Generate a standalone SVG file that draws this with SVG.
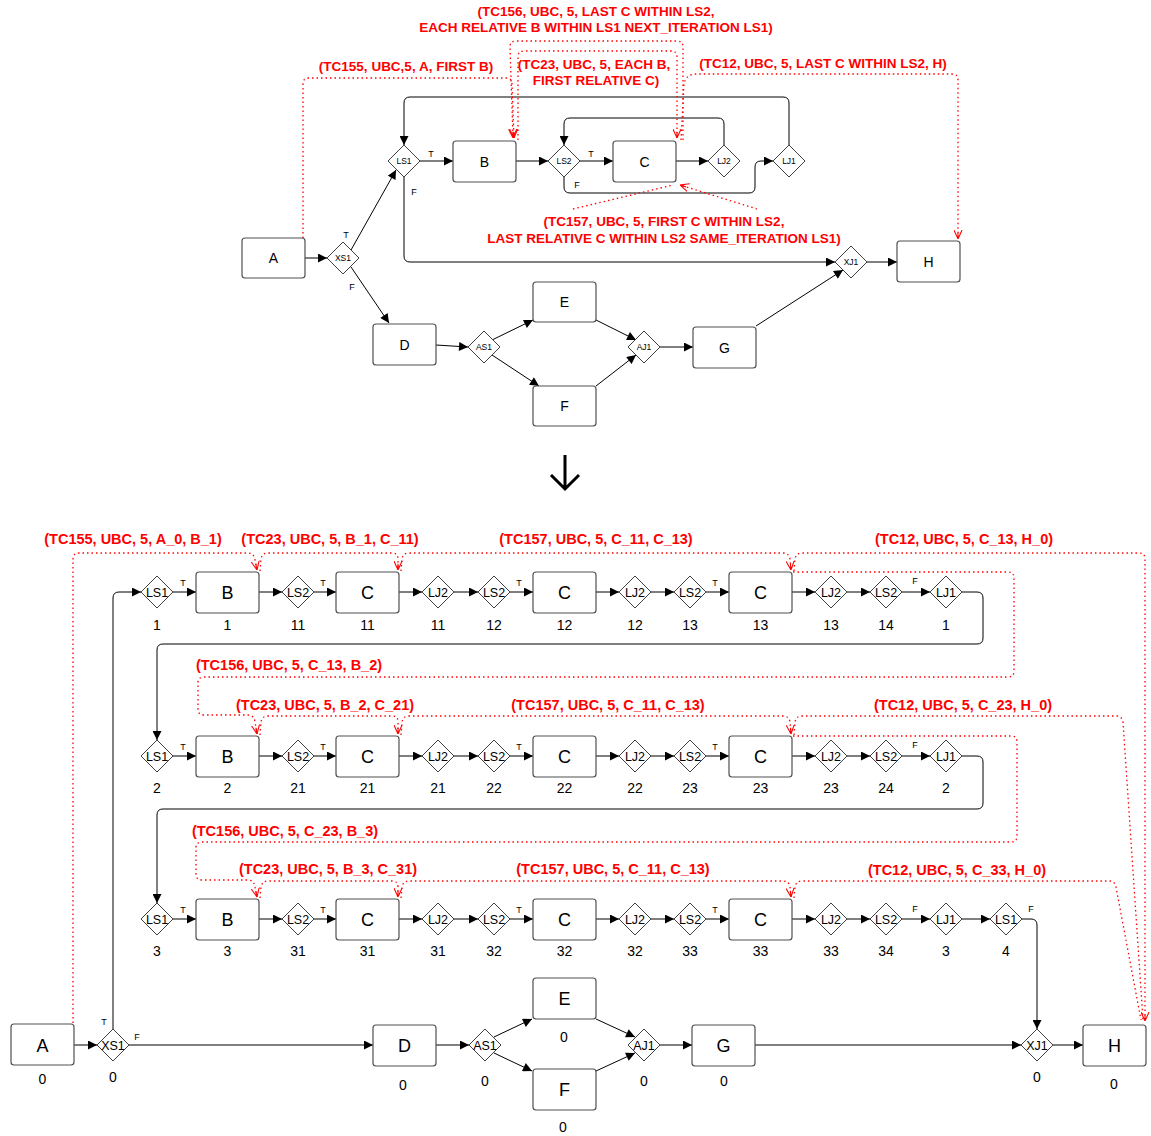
<svg xmlns="http://www.w3.org/2000/svg" width="1151" height="1136" viewBox="0 0 1151 1136">
<style>
.box{fill:#fff;stroke:#505050;stroke-width:1.2}
.dia{fill:#fff;stroke:#404040;stroke-width:1}
.t{font-family:"Liberation Sans",Arial,sans-serif;text-anchor:middle;fill:#000}
.big{font-size:18px}
.mid{font-size:14px}
.num{font-size:14px}
.dl{font-size:12.5px}
.tdl{font-size:8.5px}
.tf{font-size:9px}
.ann{font-family:"Liberation Sans",Arial,sans-serif;font-weight:bold;font-size:14.5px;fill:#ff0000;text-anchor:middle}
.annt{font-family:"Liberation Sans",Arial,sans-serif;font-weight:bold;font-size:13.5px;fill:#ff0000;text-anchor:middle}
.c{fill:none;stroke:#000;stroke-width:1;marker-end:url(#ah)}
.cn{fill:none;stroke:#000;stroke-width:1}
.r{fill:none;stroke:#ff0000;stroke-width:1.3;stroke-dasharray:1.5 3}
.ra{marker-end:url(#ra)}
</style>
<defs>
<marker id="ah" viewBox="0 0 10 10" refX="10" refY="5" markerWidth="10" markerHeight="9" markerUnits="userSpaceOnUse" orient="auto"><path d="M0,0 L10,5 L0,10 z" fill="#000"/></marker>
<marker id="ra" viewBox="0 0 10 10" refX="10" refY="5" markerWidth="9" markerHeight="9" markerUnits="userSpaceOnUse" orient="auto"><path d="M0,0.5 L10,5 L0,9.5 M10,5 L3,5" fill="none" stroke="#ff0000" stroke-width="1.2"/></marker>
</defs>
<rect width="1151" height="1136" fill="#fff"/>

<!-- ================= TOP DIAGRAM ================= -->
<g id="top-connectors">
<path class="c" d="M305,258 L327,258"/>
<path class="c" d="M351,250 L396,170"/>
<path class="c" d="M351,267 L389,323"/>
<path class="c" d="M420,161 L453,161"/>
<path class="c" d="M516,161 L548,161"/>
<path class="c" d="M580,161 L613,161"/>
<path class="c" d="M676,161 L708,161"/>
<path class="c" d="M724,145 L724,124 Q724,118 718,118 L570,118 Q564,118 564,124 L564,145"/>
<path class="c" d="M564,177 L564,187 Q564,193 570,193 L749,193 Q755,193 755,187 L755,167 Q755,161 761,161 L773,161"/>
<path class="c" d="M789,145 L789,103 Q789,97 783,97 L410,97 Q404,97 404,103 L404,145"/>
<path class="c" d="M404,177 L404,256 Q404,262 410,262 L835,262"/>
<path class="c" d="M867,262 L897,262"/>
<path class="c" d="M436,345 L468,347"/>
<path class="c" d="M492,340 L533,320"/>
<path class="c" d="M492,355 L539,386"/>
<path class="c" d="M596,320 L636,340"/>
<path class="c" d="M596,386 L636,355"/>
<path class="c" d="M660,347 L693,347"/>
<path class="c" d="M756,326 L843,270"/>
<text class="t tf" x="346" y="238">T</text>
<text class="t tf" x="352" y="290">F</text>
<text class="t tf" x="431" y="157">T</text>
<text class="t tf" x="414" y="195">F</text>
<text class="t tf" x="591" y="157">T</text>
<text class="t tf" x="577" y="188">F</text>
</g>

<g id="top-annotations">
<path class="r ra" d="M303,238 L303,84 Q303,78 309,78 L506,78 Q512,78 512,84 L514,138"/>
<path class="r ra" d="M683,140 L683,47 Q683,41 677,41 L516,41 Q510,41 510,47 L513,138"/>
<path class="r ra" d="M518,140 L518,57 Q518,51 524,51 L671,51 Q677,51 677,57 L677,138"/>
<path class="r ra" d="M681,140 L684,84 Q686,74 696,74 L952,74 Q958,74 958,80 L958,239"/>
<path class="r" d="M573,209 L673,185"/>
<path class="r ra" d="M757,209 L680,185"/>
<text class="annt" x="596" y="16">(TC156, UBC, 5, LAST C WITHIN LS2,</text>
<text class="annt" x="596" y="32">EACH RELATIVE B WITHIN LS1 NEXT_ITERATION LS1)</text>
<text class="annt" x="406" y="71">(TC155, UBC,5, A, FIRST B)</text>
<text class="annt" x="594" y="69">(TC23, UBC, 5, EACH B,</text>
<text class="annt" x="596" y="85">FIRST RELATIVE C)</text>
<text class="annt" x="823" y="68">(TC12, UBC, 5, LAST C WITHIN LS2, H)</text>
<text class="annt" x="664" y="226">(TC157, UBC, 5, FIRST C WITHIN LS2,</text>
<text class="annt" x="664" y="243">LAST RELATIVE C WITHIN LS2 SAME_ITERATION LS1)</text>
</g>

<g id="tA"><rect class="box" x="242" y="238" width="63" height="40" rx="3"/><text class="t mid" x="273.5" y="263">A</text></g>
<g id="tXS1"><polygon class="dia" points="343,242 359,258 343,274 327,258"/><text class="t tdl" x="343" y="261">XS1</text></g>
<g id="tLS1"><polygon class="dia" points="404,145 420,161 404,177 388,161"/><text class="t tdl" x="404" y="164">LS1</text></g>
<g id="tB"><rect class="box" x="453" y="141" width="63" height="41" rx="3"/><text class="t mid" x="484.5" y="167">B</text></g>
<g id="tLS2"><polygon class="dia" points="564,145 580,161 564,177 548,161"/><text class="t tdl" x="564" y="164">LS2</text></g>
<g id="tC"><rect class="box" x="613" y="141" width="63" height="41" rx="3"/><text class="t mid" x="644.5" y="167">C</text></g>
<g id="tLJ2"><polygon class="dia" points="724,145 740,161 724,177 708,161"/><text class="t tdl" x="724" y="164">LJ2</text></g>
<g id="tLJ1"><polygon class="dia" points="789,145 805,161 789,177 773,161"/><text class="t tdl" x="789" y="164">LJ1</text></g>
<g id="tXJ1"><polygon class="dia" points="851,246 867,262 851,278 835,262"/><text class="t tdl" x="851" y="265">XJ1</text></g>
<g id="tH"><rect class="box" x="897" y="241" width="63" height="41" rx="3"/><text class="t mid" x="928.5" y="267">H</text></g>
<g id="tD"><rect class="box" x="373" y="324" width="63" height="41" rx="3"/><text class="t mid" x="404.5" y="350">D</text></g>
<g id="tAS1"><polygon class="dia" points="484,331 500,347 484,363 468,347"/><text class="t tdl" x="484" y="350">AS1</text></g>
<g id="tE"><rect class="box" x="533" y="282" width="63" height="40" rx="3"/><text class="t mid" x="564.5" y="307">E</text></g>
<g id="tF"><rect class="box" x="533" y="386" width="63" height="40" rx="3"/><text class="t mid" x="564.5" y="411">F</text></g>
<g id="tAJ1"><polygon class="dia" points="644,331 660,347 644,363 628,347"/><text class="t tdl" x="644" y="350">AJ1</text></g>
<g id="tG"><rect class="box" x="693" y="327" width="63" height="41" rx="3"/><text class="t mid" x="724.5" y="353">G</text></g>

<g id="transform-arrow"><path d="M565,455 L565,489 M551,475 L565,489 L579,475" fill="none" stroke="#000" stroke-width="3"/></g>

<!-- ================= BOTTOM DIAGRAM ================= -->
<g id="connectors">
<!-- row 1 -->
<path class="c" d="M113,1029 L113,598 Q113,592 119,592 L141,592"/>
<path class="c" d="M173,592 L196,592"/>
<path class="c" d="M259,592 L282,592"/>
<path class="c" d="M314,592 L336,592"/>
<path class="c" d="M399,592 L422,592"/>
<path class="c" d="M454,592 L478,592"/>
<path class="c" d="M510,592 L533,592"/>
<path class="c" d="M596,592 L619,592"/>
<path class="c" d="M651,592 L674,592"/>
<path class="c" d="M706,592 L729,592"/>
<path class="c" d="M792,592 L815,592"/>
<path class="c" d="M847,592 L870,592"/>
<path class="c" d="M902,592 L930,592"/>
<path class="c" d="M962,592 L977,592 Q983,592 983,598 L983,638 Q983,644 977,644 L163,644 Q157,644 157,650 L157,740"/>
<!-- row 2 -->
<path class="c" d="M173,756 L196,756"/>
<path class="c" d="M259,756 L282,756"/>
<path class="c" d="M314,756 L336,756"/>
<path class="c" d="M399,756 L422,756"/>
<path class="c" d="M454,756 L478,756"/>
<path class="c" d="M510,756 L533,756"/>
<path class="c" d="M596,756 L619,756"/>
<path class="c" d="M651,756 L674,756"/>
<path class="c" d="M706,756 L729,756"/>
<path class="c" d="M792,756 L815,756"/>
<path class="c" d="M847,756 L870,756"/>
<path class="c" d="M902,756 L930,756"/>
<path class="c" d="M962,756 L977,756 Q983,756 983,762 L983,803 Q983,809 977,809 L163,809 Q157,809 157,815 L157,903"/>
<!-- row 3 -->
<path class="c" d="M173,919 L196,919"/>
<path class="c" d="M259,919 L282,919"/>
<path class="c" d="M314,919 L336,919"/>
<path class="c" d="M399,919 L422,919"/>
<path class="c" d="M454,919 L478,919"/>
<path class="c" d="M510,919 L533,919"/>
<path class="c" d="M596,919 L619,919"/>
<path class="c" d="M651,919 L674,919"/>
<path class="c" d="M706,919 L729,919"/>
<path class="c" d="M792,919 L815,919"/>
<path class="c" d="M847,919 L870,919"/>
<path class="c" d="M902,919 L930,919"/>
<path class="c" d="M962,919 L990,919"/>
<path class="c" d="M1022,919 L1031,919 Q1037,919 1037,925 L1037,1029"/>
<!-- bottom row -->
<path class="c" d="M74,1045 L97,1045"/>
<path class="c" d="M129,1045 L373,1045"/>
<path class="c" d="M436,1045 L469,1045"/>
<path class="c" d="M494,1037 L532,1019"/>
<path class="c" d="M494,1053 L532,1071"/>
<path class="c" d="M596,1019 L635,1037"/>
<path class="c" d="M596,1071 L635,1053"/>
<path class="c" d="M660,1045 L692,1045"/>
<path class="c" d="M755,1045 L1021,1045"/>
<path class="c" d="M1053,1045 L1083,1045"/>
<!-- T/F labels -->
<text class="t tf" x="183" y="586">T</text><text class="t tf" x="323" y="586">T</text><text class="t tf" x="519" y="586">T</text><text class="t tf" x="715" y="586">T</text><text class="t tf" x="915" y="584">F</text>
<text class="t tf" x="183" y="750">T</text><text class="t tf" x="323" y="750">T</text><text class="t tf" x="519" y="750">T</text><text class="t tf" x="715" y="750">T</text><text class="t tf" x="915" y="748">F</text>
<text class="t tf" x="183" y="913">T</text><text class="t tf" x="323" y="913">T</text><text class="t tf" x="519" y="913">T</text><text class="t tf" x="715" y="913">T</text><text class="t tf" x="915" y="912">F</text><text class="t tf" x="1031" y="912">F</text>
<text class="t tf" x="104" y="1025">T</text><text class="t tf" x="137" y="1040">F</text>
</g>

<g id="annotations">
<path class="r ra" d="M73,1023 L73,559 Q73,553 79,553 L248,553 Q254,553 255,560 L257,570"/>
<path class="r ra" d="M260,571 L261,559 Q262,553 268,553 L392,553 Q398,553 398,559 L398,570"/>
<path class="r ra" d="M401,571 L402,559 Q403,553 409,553 L783,553 Q789,553 790,559 L791,570"/>
<path class="r ra" d="M794,571 L795,559 Q796,553 802,553 L1139,553 Q1145,553 1145,559 L1145,1021"/>
<path class="r ra" d="M793,572 L1008,572 Q1014,572 1014,578 L1014,671 Q1014,677 1008,677 L204,677 Q198,677 198,683 L198,709 Q198,715 204,715 L248,715 Q254,715 255,722 L257,734"/>
<path class="r ra" d="M260,735 L261,722 Q262,716 268,716 L392,716 Q398,716 398,722 L398,734"/>
<path class="r ra" d="M401,735 L402,722 Q403,716 409,716 L783,716 Q789,716 790,722 L791,734"/>
<path class="r" d="M794,735 L795,722 Q796,716 802,716 L1116,716 Q1122,716 1123,722 L1143,1020"/>
<path class="r" d="M793,736 L1011,736 Q1017,736 1017,742 L1017,836 Q1017,842 1011,842 L202,842 Q196,842 196,848 L196,874 Q196,880 202,880 L248,880 Q254,880 255,887"/>
<path class="r ra" d="M255,887 L257,897"/>
<path class="r ra" d="M260,898 L261,887 Q262,881 268,881 L392,881 Q398,881 398,887 L398,897"/>
<path class="r ra" d="M401,898 L402,887 Q403,881 409,881 L783,881 Q789,881 790,887 L791,897"/>
<path class="r" d="M794,898 L795,887 Q796,881 802,881 L1109,881 Q1115,881 1116,887 L1141,1020"/>
<text class="ann" x="133" y="544">(TC155, UBC, 5, A_0, B_1)</text>
<text class="ann" x="330" y="544">(TC23, UBC, 5, B_1, C_11)</text>
<text class="ann" x="596" y="544">(TC157, UBC, 5, C_11, C_13)</text>
<text class="ann" x="964" y="544">(TC12, UBC, 5, C_13, H_0)</text>
<text class="ann" x="289" y="670">(TC156, UBC, 5, C_13, B_2)</text>
<text class="ann" x="325" y="710">(TC23, UBC, 5, B_2, C_21)</text>
<text class="ann" x="608" y="710">(TC157, UBC, 5, C_11, C_13)</text>
<text class="ann" x="963" y="710">(TC12, UBC, 5, C_23, H_0)</text>
<text class="ann" x="285" y="836">(TC156, UBC, 5, C_23, B_3)</text>
<text class="ann" x="328" y="874">(TC23, UBC, 5, B_3, C_31)</text>
<text class="ann" x="613" y="874">(TC157, UBC, 5, C_11, C_13)</text>
<text class="ann" x="957" y="875">(TC12, UBC, 5, C_33, H_0)</text>
</g>

<!-- row 1 nodes -->
<g id="r1-LS1"><polygon class="dia" points="157,576 173,592 157,608 141,592"/><text class="t dl" x="157" y="596.5">LS1</text><text class="t num" x="157" y="630">1</text></g>
<g id="r1-B"><rect class="box" x="196" y="572" width="63" height="41" rx="3"/><text class="t big" x="227.5" y="598.5">B</text><text class="t num" x="227.5" y="630">1</text></g>
<g id="r1-LS2a"><polygon class="dia" points="298,576 314,592 298,608 282,592"/><text class="t dl" x="298" y="596.5">LS2</text><text class="t num" x="298" y="630">11</text></g>
<g id="r1-Ca"><rect class="box" x="336" y="572" width="63" height="41" rx="3"/><text class="t big" x="367.5" y="598.5">C</text><text class="t num" x="367.5" y="630">11</text></g>
<g id="r1-LJ2a"><polygon class="dia" points="438,576 454,592 438,608 422,592"/><text class="t dl" x="438" y="596.5">LJ2</text><text class="t num" x="438" y="630">11</text></g>
<g id="r1-LS2b"><polygon class="dia" points="494,576 510,592 494,608 478,592"/><text class="t dl" x="494" y="596.5">LS2</text><text class="t num" x="494" y="630">12</text></g>
<g id="r1-Cb"><rect class="box" x="533" y="572" width="63" height="41" rx="3"/><text class="t big" x="564.5" y="598.5">C</text><text class="t num" x="564.5" y="630">12</text></g>
<g id="r1-LJ2b"><polygon class="dia" points="635,576 651,592 635,608 619,592"/><text class="t dl" x="635" y="596.5">LJ2</text><text class="t num" x="635" y="630">12</text></g>
<g id="r1-LS2c"><polygon class="dia" points="690,576 706,592 690,608 674,592"/><text class="t dl" x="690" y="596.5">LS2</text><text class="t num" x="690" y="630">13</text></g>
<g id="r1-Cc"><rect class="box" x="729" y="572" width="63" height="41" rx="3"/><text class="t big" x="760.5" y="598.5">C</text><text class="t num" x="760.5" y="630">13</text></g>
<g id="r1-LJ2c"><polygon class="dia" points="831,576 847,592 831,608 815,592"/><text class="t dl" x="831" y="596.5">LJ2</text><text class="t num" x="831" y="630">13</text></g>
<g id="r1-LS2d"><polygon class="dia" points="886,576 902,592 886,608 870,592"/><text class="t dl" x="886" y="596.5">LS2</text><text class="t num" x="886" y="630">14</text></g>
<g id="r1-LJ1"><polygon class="dia" points="946,576 962,592 946,608 930,592"/><text class="t dl" x="946" y="596.5">LJ1</text><text class="t num" x="946" y="630">1</text></g>

<!-- row 2 nodes -->
<g id="r2-LS1"><polygon class="dia" points="157,740 173,756 157,772 141,756"/><text class="t dl" x="157" y="760.5">LS1</text><text class="t num" x="157" y="793">2</text></g>
<g id="r2-B"><rect class="box" x="196" y="736" width="63" height="41" rx="3"/><text class="t big" x="227.5" y="762.5">B</text><text class="t num" x="227.5" y="793">2</text></g>
<g id="r2-LS2a"><polygon class="dia" points="298,740 314,756 298,772 282,756"/><text class="t dl" x="298" y="760.5">LS2</text><text class="t num" x="298" y="793">21</text></g>
<g id="r2-Ca"><rect class="box" x="336" y="736" width="63" height="41" rx="3"/><text class="t big" x="367.5" y="762.5">C</text><text class="t num" x="367.5" y="793">21</text></g>
<g id="r2-LJ2a"><polygon class="dia" points="438,740 454,756 438,772 422,756"/><text class="t dl" x="438" y="760.5">LJ2</text><text class="t num" x="438" y="793">21</text></g>
<g id="r2-LS2b"><polygon class="dia" points="494,740 510,756 494,772 478,756"/><text class="t dl" x="494" y="760.5">LS2</text><text class="t num" x="494" y="793">22</text></g>
<g id="r2-Cb"><rect class="box" x="533" y="736" width="63" height="41" rx="3"/><text class="t big" x="564.5" y="762.5">C</text><text class="t num" x="564.5" y="793">22</text></g>
<g id="r2-LJ2b"><polygon class="dia" points="635,740 651,756 635,772 619,756"/><text class="t dl" x="635" y="760.5">LJ2</text><text class="t num" x="635" y="793">22</text></g>
<g id="r2-LS2c"><polygon class="dia" points="690,740 706,756 690,772 674,756"/><text class="t dl" x="690" y="760.5">LS2</text><text class="t num" x="690" y="793">23</text></g>
<g id="r2-Cc"><rect class="box" x="729" y="736" width="63" height="41" rx="3"/><text class="t big" x="760.5" y="762.5">C</text><text class="t num" x="760.5" y="793">23</text></g>
<g id="r2-LJ2c"><polygon class="dia" points="831,740 847,756 831,772 815,756"/><text class="t dl" x="831" y="760.5">LJ2</text><text class="t num" x="831" y="793">23</text></g>
<g id="r2-LS2d"><polygon class="dia" points="886,740 902,756 886,772 870,756"/><text class="t dl" x="886" y="760.5">LS2</text><text class="t num" x="886" y="793">24</text></g>
<g id="r2-LJ1"><polygon class="dia" points="946,740 962,756 946,772 930,756"/><text class="t dl" x="946" y="760.5">LJ1</text><text class="t num" x="946" y="793">2</text></g>

<!-- row 3 nodes -->
<g id="r3-LS1"><polygon class="dia" points="157,903 173,919 157,935 141,919"/><text class="t dl" x="157" y="923.5">LS1</text><text class="t num" x="157" y="956">3</text></g>
<g id="r3-B"><rect class="box" x="196" y="899" width="63" height="41" rx="3"/><text class="t big" x="227.5" y="925.5">B</text><text class="t num" x="227.5" y="956">3</text></g>
<g id="r3-LS2a"><polygon class="dia" points="298,903 314,919 298,935 282,919"/><text class="t dl" x="298" y="923.5">LS2</text><text class="t num" x="298" y="956">31</text></g>
<g id="r3-Ca"><rect class="box" x="336" y="899" width="63" height="41" rx="3"/><text class="t big" x="367.5" y="925.5">C</text><text class="t num" x="367.5" y="956">31</text></g>
<g id="r3-LJ2a"><polygon class="dia" points="438,903 454,919 438,935 422,919"/><text class="t dl" x="438" y="923.5">LJ2</text><text class="t num" x="438" y="956">31</text></g>
<g id="r3-LS2b"><polygon class="dia" points="494,903 510,919 494,935 478,919"/><text class="t dl" x="494" y="923.5">LS2</text><text class="t num" x="494" y="956">32</text></g>
<g id="r3-Cb"><rect class="box" x="533" y="899" width="63" height="41" rx="3"/><text class="t big" x="564.5" y="925.5">C</text><text class="t num" x="564.5" y="956">32</text></g>
<g id="r3-LJ2b"><polygon class="dia" points="635,903 651,919 635,935 619,919"/><text class="t dl" x="635" y="923.5">LJ2</text><text class="t num" x="635" y="956">32</text></g>
<g id="r3-LS2c"><polygon class="dia" points="690,903 706,919 690,935 674,919"/><text class="t dl" x="690" y="923.5">LS2</text><text class="t num" x="690" y="956">33</text></g>
<g id="r3-Cc"><rect class="box" x="729" y="899" width="63" height="41" rx="3"/><text class="t big" x="760.5" y="925.5">C</text><text class="t num" x="760.5" y="956">33</text></g>
<g id="r3-LJ2c"><polygon class="dia" points="831,903 847,919 831,935 815,919"/><text class="t dl" x="831" y="923.5">LJ2</text><text class="t num" x="831" y="956">33</text></g>
<g id="r3-LS2d"><polygon class="dia" points="886,903 902,919 886,935 870,919"/><text class="t dl" x="886" y="923.5">LS2</text><text class="t num" x="886" y="956">34</text></g>
<g id="r3-LJ1"><polygon class="dia" points="946,903 962,919 946,935 930,919"/><text class="t dl" x="946" y="923.5">LJ1</text><text class="t num" x="946" y="956">3</text></g>
<g id="r3-LS1b"><polygon class="dia" points="1006,903 1022,919 1006,935 990,919"/><text class="t dl" x="1006" y="923.5">LS1</text><text class="t num" x="1006" y="956">4</text></g>

<!-- bottom row nodes -->
<g id="bA"><rect class="box" x="11" y="1024" width="63" height="41" rx="3"/><text class="t big" x="42.5" y="1051.5">A</text><text class="t num" x="42.5" y="1084">0</text></g>
<g id="bXS1"><polygon class="dia" points="113,1029 129,1045 113,1061 97,1045"/><text class="t dl" x="113" y="1049.5">XS1</text><text class="t num" x="113" y="1082">0</text></g>
<g id="bD"><rect class="box" x="373" y="1025" width="63" height="41" rx="3"/><text class="t big" x="404.5" y="1052">D</text><text class="t num" x="403" y="1090">0</text></g>
<g id="bAS1"><polygon class="dia" points="485,1029 501,1045 485,1061 469,1045"/><text class="t dl" x="485" y="1049.5">AS1</text><text class="t num" x="485" y="1086">0</text></g>
<g id="bE"><rect class="box" x="533" y="978" width="63" height="41" rx="3"/><text class="t big" x="564.5" y="1005">E</text><text class="t num" x="564" y="1042">0</text></g>
<g id="bF"><rect class="box" x="533" y="1069" width="63" height="41" rx="3"/><text class="t big" x="564.5" y="1096">F</text><text class="t num" x="563" y="1132">0</text></g>
<g id="bAJ1"><polygon class="dia" points="644,1029 660,1045 644,1061 628,1045"/><text class="t dl" x="644" y="1049.5">AJ1</text><text class="t num" x="644" y="1086">0</text></g>
<g id="bG"><rect class="box" x="692" y="1025" width="63" height="41" rx="3"/><text class="t big" x="723.5" y="1052">G</text><text class="t num" x="724" y="1086">0</text></g>
<g id="bXJ1"><polygon class="dia" points="1037,1029 1053,1045 1037,1061 1021,1045"/><text class="t dl" x="1037" y="1049.5">XJ1</text><text class="t num" x="1037" y="1082">0</text></g>
<g id="bH"><rect class="box" x="1083" y="1025" width="63" height="41" rx="3"/><text class="t big" x="1114.5" y="1052">H</text><text class="t num" x="1114" y="1089">0</text></g>
</svg>
